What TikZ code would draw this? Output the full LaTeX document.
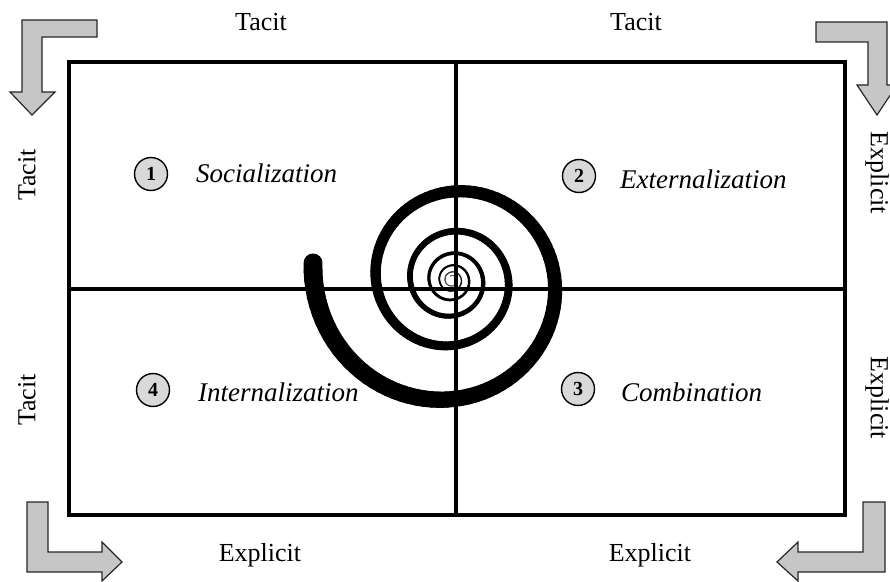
\documentclass[tikz,border=0pt]{standalone}
\usepackage{fontspec}
\setmainfont{Liberation Serif}
\begin{document}
\begin{tikzpicture}[x=1pt,y=1pt,
  lbl/.style={inner sep=0pt, font=\fontsize{26}{30}\selectfont},
  quad/.style={inner sep=0pt, anchor=base west, font=\fontsize{27}{30}\selectfont\itshape},
  num/.style={circle, draw, line width=1.4pt, fill=gray!30, minimum size=33pt, inner sep=0pt, font=\fontsize{20}{22}\selectfont\bfseries},
  bendarrow/.style={draw=black!85, line width=1.2pt, fill=gray!45, line join=miter},
  gridline/.style={line width=4.5pt}]
\useasboundingbox (0,0) rectangle (890,581);
% spiral
\begin{scope}[shift={(452,301)}]
\foreach \i in {0,...,599}{
  \pgfmathsetmacro\ta{173+\i*3.5}
  \pgfmathsetmacro\tb{\ta+3.5}
  \pgfmathsetmacro\ra{140*0.55^((\ta-173)/360)}
  \pgfmathsetmacro\rb{140*0.55^((\tb-173)/360)}
  \pgfmathsetmacro\w{max(0.8,0.135*\ra)}
  \pgfmathsetmacro\cv{min(100,40+5*\ra)}
  \draw[line width=\w pt, line cap=round, draw=black!\cv]
    ({\ra*cos(\ta)},{\ra*sin(\ta)}) -- ({\rb*cos(\tb)},{\rb*sin(\tb)});
}
\end{scope}
% grid
\coordinate (TL) at (69,519);
\coordinate (BR) at (845,66);
\coordinate (Tm) at (456,519);
\coordinate (Bm) at (456,66);
\coordinate (Lm) at (69,292);
\coordinate (Rm) at (845,292);
\draw[gridline] (Tm) -- (Bm);
\draw[gridline] (Lm) -- (Rm);
\draw[gridline, line join=miter] (TL) rectangle (BR);
% corner arrows
\draw[bendarrow] (97,561) -- (22,561) -- (22,489) -- (10,489) -- (32,466) -- (55,489) -- (42,489) -- (42,544) -- (97,544) -- cycle;
\draw[bendarrow] (816,559) -- (887,559) -- (887,496) -- (897,496) -- (877,466) -- (857,496) -- (868,496) -- (868,539) -- (816,539) -- cycle;
\draw[bendarrow] (27,79) -- (48,79) -- (48,29) -- (102,29) -- (102,39) -- (122,19) -- (102,0) -- (102,9) -- (27,9) -- cycle;
\draw[bendarrow] (885,79) -- (885,9) -- (798,9) -- (798,0) -- (777,19) -- (798,39) -- (798,29) -- (863,29) -- (863,79) -- cycle;
% side labels
\node[lbl] (t1) at (261,559) {Tacit};
\node[lbl] (t2) at (636,559) {Tacit};
\node[lbl] (e1) at (260,26) {Explicit};
\node[lbl] (e2) at (650,26) {Explicit};
\node[lbl, rotate=90] (t3) at (27,406) {Tacit};
\node[lbl, rotate=90] (t4) at (27,181) {Tacit};
\node[lbl, rotate=-90] (e3) at (877,408) {Explicit};
\node[lbl, rotate=-90] (e4) at (877,183) {Explicit};
% quadrant labels
\node[num] (n1) at (151,407) {1};
\node[num] (n2) at (579,405) {2};
\node[num] (n3) at (578,192) {3};
\node[num] (n4) at (153,191) {4};
\node[quad] (q1) at (196,398) {Socialization};
\node[quad] (q2) at (620,392) {Externalization};
\node[quad] (q3) at (621,180) {Combination};
\node[quad] (q4) at (198,180) {Internalization};
\end{tikzpicture}
\end{document}
